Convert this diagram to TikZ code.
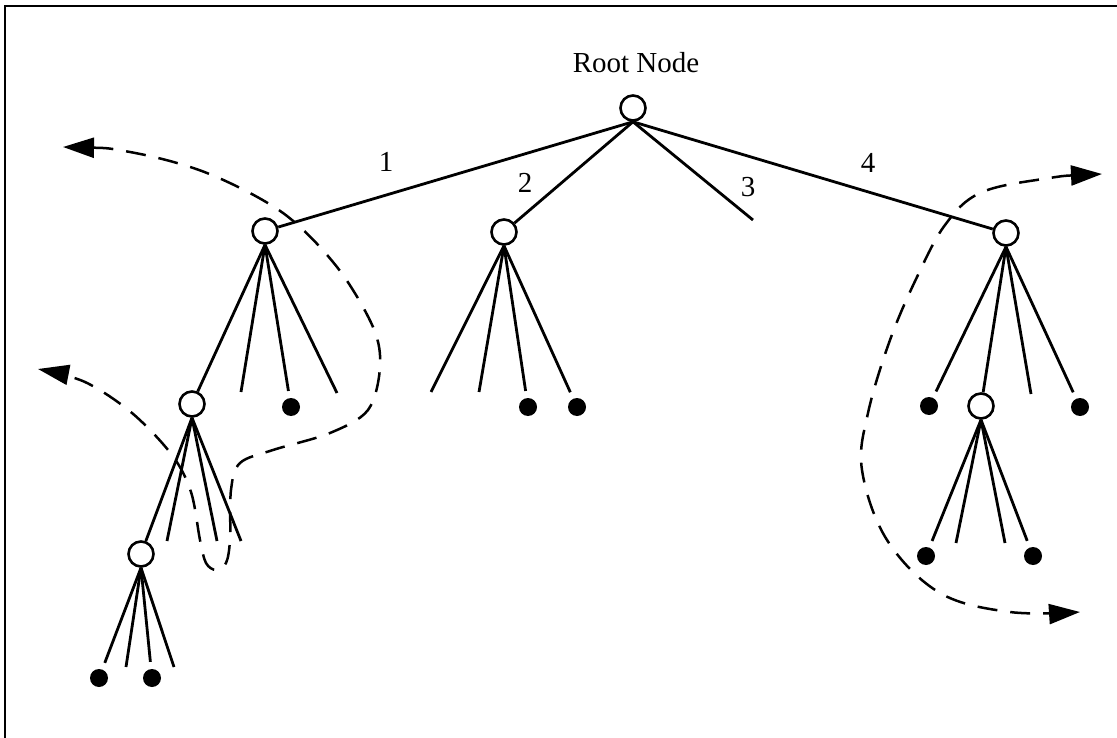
\documentclass[tikz,border=0pt]{standalone}
\usepackage{fontspec}
\setmainfont{Liberation Serif}
\usetikzlibrary{arrows.meta}
\begin{document}
\begin{tikzpicture}[x=1pt,y=-1pt,
  open/.style={circle,draw,line width=2.6pt,minimum size=25pt,inner sep=0pt,fill=white},
  leaf/.style={circle,fill,minimum size=18pt,inner sep=0pt},
  branch/.style={line width=2.8pt},
  tobox/.style={branch,shorten >=7pt},
  trail/.style={line width=2.5pt,dash pattern=on 20pt off 13pt,
    {Triangle[length=31pt,width=20pt]}-{Triangle[length=31pt,width=20pt]}},
  lbl/.style={font=\fontsize{29}{33}\selectfont,anchor=base,inner sep=0pt}]
\useasboundingbox (0,0) rectangle (1117,738);

% frame
\draw[line width=2.2pt] (5,738) -- (5,6) -- (1117,6);

% nodes of the tree
\node[lbl] (title) at (636,73) {Root Node};
\node[open] (root) at (633,108) {};
\node[open] (A) at (265,231) {};
\node[open] (B) at (504,232) {};
\node[open] (C) at (1006,233) {};
\coordinate (c3) at (753,220);

\node[open] (D) at (192,404) {};
\coordinate (a1) at (241,392);
\node[leaf] (a2) at (291,407) {};
\coordinate (a3) at (337,393);

\coordinate (b1) at (431,392);
\coordinate (b2) at (479,392);
\node[leaf] (b3) at (528,407) {};
\node[leaf] (b4) at (577,407) {};

\node[open] (E) at (141,554) {};
\coordinate (d1) at (167,541);
\coordinate (d2) at (217,541);
\coordinate (d3) at (241,541);

\node[leaf] (e1) at (99,678) {};
\coordinate (e2) at (126,667);
\node[leaf] (e3) at (152,678) {};
\coordinate (e4) at (174,667);

\node[leaf] (c1) at (929,406) {};
\node[open] (F) at (981,406) {};
\coordinate (c4) at (1031,394);
\node[leaf] (c5) at (1080,407) {};

\node[leaf] (f1) at (926,556) {};
\coordinate (f2) at (956,543);
\coordinate (f3) at (1005,543);
\node[leaf] (f4) at (1033,556) {};

% branches
\draw[branch] (root.south) -- (A);
\draw[branch] (root.south) -- (B);
\draw[branch] (root.south) -- (c3);
\draw[branch] (root.south) -- (C);

\draw[branch] (A.south) -- (D);
\draw[branch] (A.south) -- (a1);
\draw[tobox] (A.south) -- (a2);
\draw[branch] (A.south) -- (a3);

\draw[branch] (B.south) -- (b1);
\draw[branch] (B.south) -- (b2);
\draw[tobox] (B.south) -- (b3);
\draw[tobox] (B.south) -- (b4);

\draw[branch] (D.south) -- (E);
\draw[branch] (D.south) -- (d1);
\draw[branch] (D.south) -- (d2);
\draw[branch] (D.south) -- (d3);

\draw[tobox] (E.south) -- (e1);
\draw[branch] (E.south) -- (e2);
\draw[tobox] (E.south) -- (e3);
\draw[branch] (E.south) -- (e4);

\draw[tobox] (C.south) -- (c1);
\draw[branch] (C.south) -- (F);
\draw[branch] (C.south) -- (c4);
\draw[tobox] (C.south) -- (c5);

\draw[tobox] (F.south) -- (f1);
\draw[branch] (F.south) -- (f2);
\draw[branch] (F.south) -- (f3);
\draw[tobox] (F.south) -- (f4);

% branch labels
\node[lbl] (l1) at (386,172) {1};
\node[lbl] (l2) at (525,193) {2};
\node[lbl] (l3) at (748,197) {3};
\node[lbl] (l4) at (868,173) {4};

% search trails
\coordinate (ltop) at (63,147);
\coordinate (lbot) at (38,369);
\draw[trail] plot[smooth,tension=0.55] coordinates {(63,147) (130,152) (207,173) (283,213)
  (337,267) (373,327) (380,367) (368,410) (330,433) (273,450) (240,463) (231,490)
  (230,540) (226,563) (216,570) (206,563) (200,540) (191,492) (172,455) (132,413) (85,382) (38,369)};

\coordinate (rtop) at (1102,174);
\coordinate (rbot) at (1080,612);
\draw[trail] plot[smooth,tension=0.6] coordinates {(1102,174) (1043,179) (980,193) (945,225)
  (917,277) (890,340) (868,413) (862,470) (887,540) (940,593) (1010,612) (1080,612)};
\end{tikzpicture}
\end{document}
